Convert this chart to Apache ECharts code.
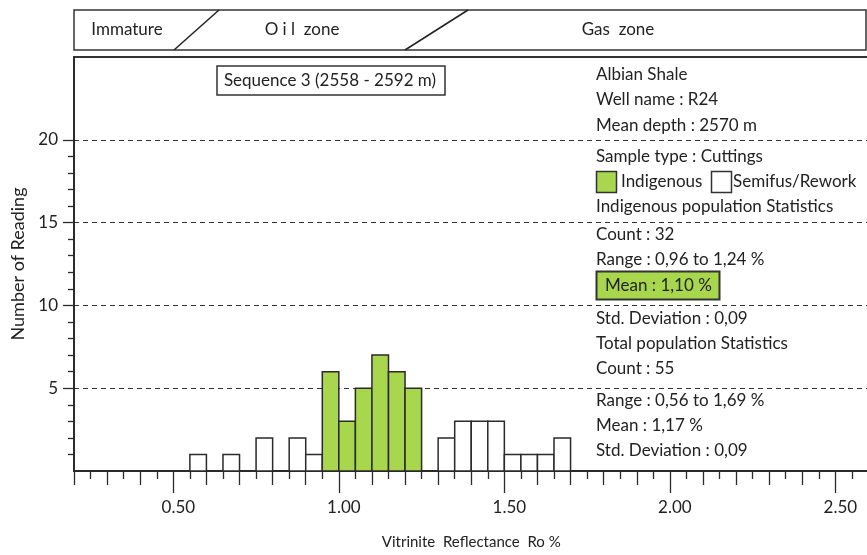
<!DOCTYPE html>
<html>
<head>
<meta charset="utf-8">
<script src="https://cdn.jsdelivr.net/npm/echarts@6/dist/echarts.min.js"></script>
<style>
  html, body { margin: 0; padding: 0; background: #fff; }
  #chart { width: 867px; height: 555px; }
</style>
</head>
<body>
<div id="chart"></div>
<script>
// Vitrinite reflectance histogram, bins of 0.05 % Ro (lower edge of each bin)
const binWidth = 0.05;
const indigenousBins = [0.95, 1.00, 1.05, 1.10, 1.15, 1.20];
const indigenousCounts = [6, 3, 5, 7, 6, 5];
const reworkBins = [0.55, 0.65, 0.75, 0.85, 0.90, 1.30, 1.35, 1.40, 1.45, 1.50, 1.55, 1.60, 1.65];
const reworkCounts = [1, 1, 2, 2, 1, 2, 3, 3, 3, 1, 1, 1, 2];

// Axis ranges and labelled ticks
const xMin = 0.2, xMax = 2.6;
const xMajorTicks = [0.5, 1.0, 1.5, 2.0, 2.5];
const xTickLabels = ['0.50', '1.00', '1.50', '2.00', '2.50'];
const yMin = 0, yMax = 25;
const yTickValues = [5, 10, 15, 20];
const yMinorTicks = [1, 2, 3, 4, 6, 7, 8, 9, 11, 12, 13, 14, 16, 17, 18, 19];

// Maturity zones along the top band
const zoneLabels = ['Immature', 'O i l  zone', 'Gas  zone'];

// Statistics panel lines
const infoLines = [
  'Albian Shale',
  'Well name : R24',
  'Mean depth : 2570 m',
  'Sample type : Cuttings'
];
const indigenousStats = ['Indigenous population Statistics', 'Count : 32', 'Range : 0,96 to 1,24 %'];
const indigenousMean = 'Mean : 1,10 %';
const totalStats = ['Std. Deviation : 0,09', 'Total population Statistics', 'Count : 55',
                    'Range : 0,56 to 1,69 %', 'Mean : 1,17 %', 'Std. Deviation : 0,09'];
const sequenceLabel = 'Sequence 3 (2558 - 2592 m)';

const GREEN = '#a8d64c';
const INK = '#2a2a2a';
const FONT = 'Lato';
const TXT = '17px ' + FONT;

// Tick sets: every 0.1 (medium), odd 0.05 (short), kept apart from the 0.5 majors
const round2 = v => Math.round(v * 100) / 100;
const mediumTicks = [], shortTicks = [];
for (let i = 0; round2(xMin + i * 0.05) <= xMax; i++) {
  const v = round2(xMin + i * 0.05);
  if (xMajorTicks.some(m => Math.abs(m - v) < 1e-6)) continue;
  if (i % 2 === 0) mediumTicks.push(v); else shortTicks.push(v);
}

function histItem(fill) {
  return function (params, api) {
    const x0 = api.value(0);
    const h = api.value(1);
    const p0 = api.coord([x0, 0]);
    const p1 = api.coord([x0 + binWidth, h]);
    return {
      type: 'rect',
      shape: { x: p0[0], y: p1[1], width: p1[0] - p0[0], height: p0[1] - p1[1] },
      style: { fill: fill, stroke: INK, lineWidth: 1.5 }
    };
  };
}

const chart = echarts.init(document.getElementById('chart'), null, { renderer: 'canvas' });

function extraXAxis(ticks, len) {
  return {
    type: 'value', gridIndex: 0, position: 'bottom', min: xMin, max: xMax,
    axisLine: { show: false },
    axisLabel: { show: false },
    splitLine: { show: false },
    axisTick: { show: true, customValues: ticks, length: len, lineStyle: { color: INK, width: 1.3 } }
  };
}

const textAt = (x, y, txt, align) => ({
  type: 'text', x: x, y: y,
  style: { text: txt, font: TXT, fill: '#222', verticalAlign: 'middle', align: align || 'left' }
});
const panelX = 596;

const graphics = [
  // maturity band
  { type: 'rect', shape: { x: 74, y: 10, width: 792, height: 40 }, style: { fill: '#fff', stroke: '#333', lineWidth: 1.5 } },
  { type: 'line', shape: { x1: 219, y1: 10, x2: 174, y2: 50 }, style: { stroke: '#222', lineWidth: 1.5 } },
  { type: 'line', shape: { x1: 468, y1: 10, x2: 405, y2: 50 }, style: { stroke: '#222', lineWidth: 1.5 } },
  textAt(127, 30, zoneLabels[0], 'center'),
  textAt(302, 30, zoneLabels[1], 'center'),
  textAt(618, 30, zoneLabels[2], 'center'),
  // sequence box
  { type: 'rect', shape: { x: 217, y: 66, width: 228, height: 29 }, style: { fill: '#fff', stroke: '#333', lineWidth: 1.5 } },
  textAt(330, 81, sequenceLabel, 'center'),
  textAt(panelX, 75, infoLines[0]),
  textAt(panelX, 100, infoLines[1]),
  textAt(panelX, 126, infoLines[2]),
  textAt(panelX, 157, infoLines[3]),
  // legend
  { type: 'rect', shape: { x: 596.5, y: 171.5, width: 20, height: 21 }, style: { fill: GREEN, stroke: '#333', lineWidth: 1.5 } },
  textAt(621, 182, 'Indigenous'),
  { type: 'rect', shape: { x: 711.5, y: 171.5, width: 20, height: 21 }, style: { fill: '#fff', stroke: '#333', lineWidth: 1.5 } },
  textAt(733, 182, 'Semifus/Rework'),
  textAt(panelX, 207, indigenousStats[0]),
  textAt(panelX, 235, indigenousStats[1]),
  textAt(panelX, 260, indigenousStats[2]),
  // highlighted mean
  { type: 'rect', shape: { x: 596.5, y: 271.5, width: 123, height: 28 }, style: { fill: GREEN, stroke: '#333', lineWidth: 2 } },
  textAt(605, 286, indigenousMean),
  textAt(panelX, 319, totalStats[0]),
  textAt(panelX, 344, totalStats[1]),
  textAt(panelX, 369, totalStats[2]),
  textAt(panelX, 401, totalStats[3]),
  textAt(panelX, 426, totalStats[4]),
  textAt(panelX, 451, totalStats[5])
];

chart.setOption({
  animation: false,
  backgroundColor: '#fff',
  grid: {
    left: 74, right: -1.5, top: 57, bottom: 84, containLabel: false, outerBoundsMode: 'none',
    show: true, borderColor: '#333', borderWidth: 1.8, backgroundColor: 'transparent'
  },
  xAxis: [
    {
      type: 'value', min: xMin, max: xMax,
      name: 'Vitrinite  Reflectance  Ro %', nameLocation: 'middle', nameGap: 64,
      nameTextStyle: { fontFamily: FONT, fontSize: 15, color: '#222' },
      axisLine: { show: true, lineStyle: { color: INK, width: 2 } },
      axisTick: { show: true, customValues: xMajorTicks, length: 22, lineStyle: { color: INK, width: 1.3 } },
      axisLabel: {
        customValues: xMajorTicks, margin: 28, padding: [0, 0, 0, 10],
        fontFamily: FONT, fontSize: 17, color: '#222',
        formatter: v => xTickLabels[xMajorTicks.findIndex(m => Math.abs(m - v) < 1e-6)] || ''
      },
      splitLine: { show: false }
    },
    extraXAxis(mediumTicks, 14),
    extraXAxis(shortTicks, 8)
  ],
  yAxis: [
    {
      type: 'value', min: yMin, max: yMax, interval: 5,
      name: 'Number of Reading', nameLocation: 'middle', nameGap: 47, nameRotate: 90,
      nameTextStyle: { fontFamily: FONT, fontSize: 18, color: '#222' },
      axisLine: { show: true, lineStyle: { color: INK, width: 1.8 } },
      axisTick: { show: true, customValues: yTickValues, length: 11, lineStyle: { color: INK, width: 1.3 } },
      axisLabel: {
        customValues: yTickValues, margin: 16,
        fontFamily: FONT, fontSize: 17, color: '#222'
      },
      splitLine: { show: true, lineStyle: { color: '#333', width: 1, type: [5, 4] } }
    },
    {
      type: 'value', gridIndex: 0, position: 'left', min: yMin, max: yMax,
      axisLine: { show: false },
      axisLabel: { show: false },
      splitLine: { show: false },
      axisTick: { show: true, customValues: yMinorTicks, length: 6, lineStyle: { color: INK, width: 1.3 } }
    }
  ],
  series: [
    {
      type: 'custom', name: 'Semifus/Rework', renderItem: histItem('#fff'),
      data: reworkBins.map((b, i) => [b, reworkCounts[i]]), z: 3
    },
    {
      type: 'custom', name: 'Indigenous', renderItem: histItem(GREEN),
      data: indigenousBins.map((b, i) => [b, indigenousCounts[i]]), z: 3
    }
  ],
  graphic: graphics
});
</script>
</body>
</html>
